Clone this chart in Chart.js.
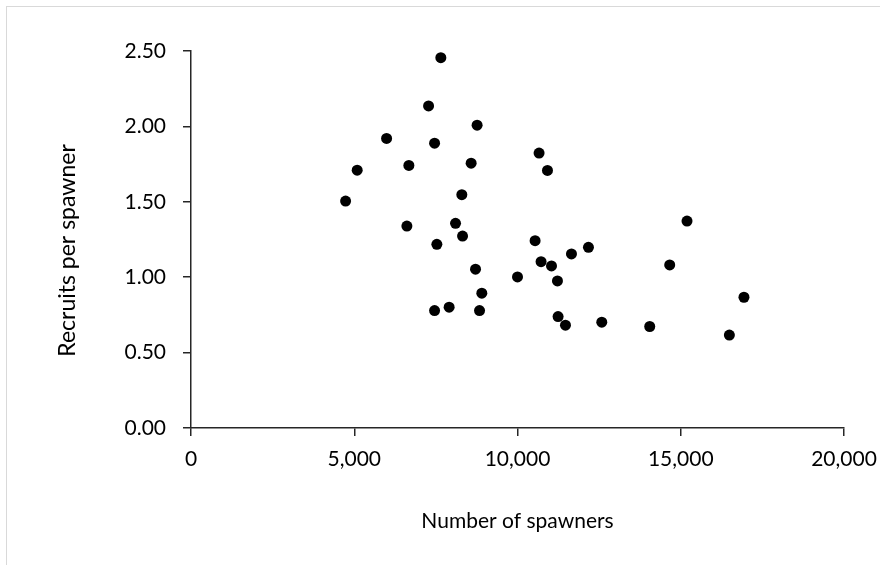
<!DOCTYPE html>
<html>
<head>
<meta charset="utf-8">
<script src="https://cdn.jsdelivr.net/npm/chart.js@4/dist/chart.umd.min.js"></script>
<style>
  html, body { margin: 0; padding: 0; background: #fff; }
  #frame { position: absolute; left: 6px; top: 6px; width: 900px; height: 600px; border: 1px solid #d9d9d9; box-sizing: border-box; }
  #wrap { position: absolute; left: 0; top: 0; width: 880px; height: 565px; }
</style>
</head>
<body>
<div id="frame"></div>
<div id="wrap"><canvas id="c" width="880" height="565"></canvas></div>
<script>
// Number of spawners (x) and recruits per spawner (y)
const spawners = [4735, 5090, 5990, 6673, 6612, 7276, 7652, 7460, 7530, 7460, 7906, 8102, 8295, 8317, 8580, 8763, 8714, 8907, 8837, 10000, 10539, 10661, 10722, 10918, 11041, 11224, 11243, 11469, 11653, 12173, 12581, 14050, 14662, 15192, 16489, 16936];
const recruitsPerSpawner = [1.505, 1.710, 1.920, 1.741, 1.339, 2.136, 2.456, 1.889, 1.218, 0.779, 0.801, 1.357, 1.547, 1.273, 1.756, 2.008, 1.053, 0.894, 0.779, 1.002, 1.242, 1.823, 1.103, 1.708, 1.075, 0.975, 0.739, 0.682, 1.154, 1.198, 0.702, 0.673, 1.081, 1.372, 0.616, 0.867];
const xTicks = [0, 5000, 10000, 15000, 20000];
const yTicks = [0, 0.5, 1.0, 1.5, 2.0, 2.5];
const xTitle = 'Number of spawners';
const yTitle = 'Recruits per spawner';

const points = spawners.map((x, i) => ({ x: x, y: recruitsPerSpawner[i] }));
const FONT = 'Lato, "Open Sans", sans-serif';
const FSIZE = 21;
const axisColor = '#262626';

const yTitlePlugin = {
  id: 'yTitle',
  afterDraw(chart) {
    const ctx = chart.ctx;
    const area = chart.chartArea;
    ctx.save();
    ctx.translate(68, area.top + (area.bottom - area.top) / 2 + 11);
    ctx.rotate(-Math.PI / 2);
    ctx.fillStyle = '#000';
    ctx.font = '23px ' + FONT;
    ctx.textAlign = 'center';
    ctx.textBaseline = 'middle';
    ctx.fillText(yTitle, 0, 0);
    ctx.restore();
  }
};

new Chart(document.getElementById('c'), {
  type: 'scatter',
  data: {
    datasets: [{
      data: points,
      backgroundColor: '#000',
      borderColor: '#000',
      borderWidth: 0,
      pointRadius: 5.5,
      pointHoverRadius: 5.5
    }]
  },
  plugins: [yTitlePlugin],
  options: {
    responsive: false,
    animation: false,
    events: [],
    layout: { padding: { left: 20, right: 36, top: 51, bottom: 20 } },
    plugins: { legend: { display: false }, tooltip: { enabled: false } },
    scales: {
      x: {
        type: 'linear',
        min: 0, max: 20000,
        afterBuildTicks: (s) => { s.ticks = xTicks.map(v => ({ value: v })); },
        afterFit: (s) => { s.height = 117; s.paddingLeft = 0; s.paddingRight = 0; },
        border: { display: true, color: axisColor, width: 1.5 },
        grid: { display: true, drawOnChartArea: false, drawTicks: true, tickLength: 8, color: axisColor, lineWidth: 1.5 },
        ticks: {
          color: '#000',
          font: { family: FONT, size: FSIZE },
          padding: 11,
          maxRotation: 0,
          callback: (v) => v.toLocaleString('en-US')
        },
        title: {
          display: true, text: xTitle, color: '#000',
          font: { family: FONT, size: FSIZE },
          padding: { top: 0, bottom: 11 }
        }
      },
      y: {
        type: 'linear',
        min: 0, max: 2.5,
        afterBuildTicks: (s) => { s.ticks = yTicks.map(v => ({ value: v })); },
        afterFit: (s) => { s.width = 171; s.paddingTop = 0; s.paddingBottom = 0; },
        border: { display: true, color: axisColor, width: 1.5 },
        grid: { display: true, drawOnChartArea: false, drawTicks: true, tickLength: 8, color: axisColor, lineWidth: 1.5 },
        ticks: {
          color: '#000',
          font: { family: FONT, size: FSIZE },
          padding: 17,
          callback: (v) => Number(v).toFixed(2)
        },
        title: { display: false }
      }
    }
  }
});
</script>
</body>
</html>
